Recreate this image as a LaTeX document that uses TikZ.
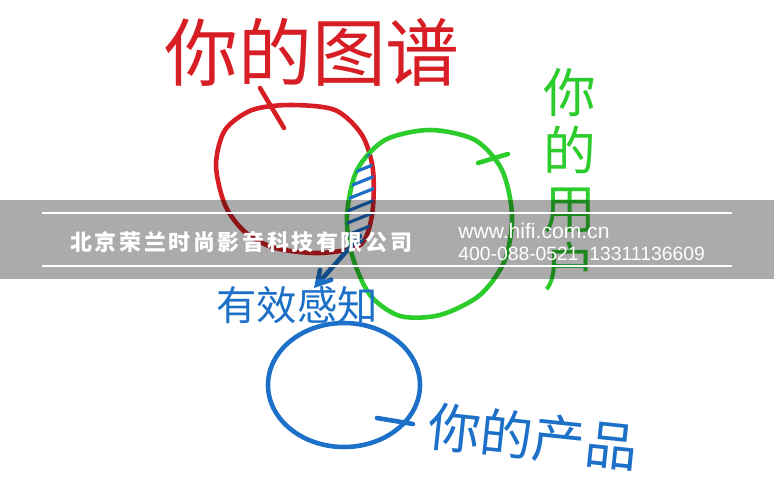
\documentclass[tikz,border=0pt]{standalone}
\usepackage{fontspec}
\newfontfamily\cjk{Noto Sans CJK SC}
\newfontfamily\cjkwide[LetterSpace=12]{Noto Sans CJK SC}
\newfontfamily\lat{Liberation Sans}
\usepackage{tikz}
\usetikzlibrary{arrows}

\definecolor{penred}{RGB}{214,30,36}
\definecolor{pengreen}{RGB}{44,204,44}
\definecolor{penblue}{RGB}{28,112,200}

% hand drawn outlines
\newcommand{\mapshape}{plot[smooth cycle] coordinates {(290,105) (335,110) (362,135) (373,170) (372,215) (360,245) (320,253) (275,248) (245,232) (225,205) (216,165) (225,130) (252,110)}}
\newcommand{\usershape}{plot[smooth cycle] coordinates {(430,130) (475,140) (502,170) (512,215) (505,260) (480,295) (440,315) (400,316) (370,295) (352,255) (347,215) (357,170) (385,140)}}

\begin{document}
\begin{tikzpicture}[x=0.02cm,y=-0.02cm,
  pen/.style={line width=2.6pt,line cap=round,line join=round},
  hand/.style={inner sep=0pt}]
\useasboundingbox[fill=white] (0,0) rectangle (774,480);

% your map
\draw[pen,penred] \mapshape;
\draw[pen,penred] (260,88) -- (284,128);
\node[hand,font=\cjk\fontsize{42}{42}\selectfont,text=penred] (maptitle) at (312,52) {你的图谱};

% your users
\draw[pen,pengreen] \usershape;
\draw[pen,pengreen] (478,163) -- (508,154);
\node[hand,font=\cjk\fontsize{30}{33}\selectfont,text=pengreen,align=center] (usertitle) at (570,180) {你\\的\\用\\户};

% overlap
\begin{scope}
\clip \mapshape;
\clip \usershape;
\foreach \y in {170,182,...,262}
  \draw[line width=1.8pt,penblue] (330,\y) -- (390,\y-24);
\end{scope}
\coordinate (overlap) at (360,236);

% perception
\node[hand,font=\cjk\fontsize{23}{23}\selectfont,text=penblue] (seen) at (297,305) {有效感知};
\draw[pen,penblue,-angle 60] (overlap) -- (314,288);

% your product
\draw[pen,penblue] (344,385) ellipse [x radius=76,y radius=62];
\draw[pen,penblue] (377,418) -- (413,424);
\node[hand,font=\cjk\fontsize{30}{30}\selectfont,text=penblue,rotate=-6] (product) at (533,437) {你的产品};

% banner
\fill[black,opacity=0.33] (0,200) rectangle (774,279);
\coordinate (rulea) at (42,213);
\coordinate (ruleb) at (732,213);
\coordinate (rulec) at (42,266);
\coordinate (ruled) at (732,266);
\draw[white,line width=0.8pt] (rulea) -- (ruleb) (rulec) -- (ruled);
\node[hand,anchor=west,text=white,font=\cjkwide\bfseries\fontsize{12.5}{12.5}\selectfont] (company) at (70,242) {北京荣兰时尚影音科技有限公司};
\node[hand,anchor=west,text=white,font=\lat\fontsize{12}{12}\selectfont] (site) at (458,231) {www.hifi.com.cn};
\node[hand,anchor=west,text=white,font=\lat\fontsize{11}{12}\selectfont] (phone) at (458,254) {400-088-0521\ \ 13311136609};
\end{tikzpicture}
\end{document}
